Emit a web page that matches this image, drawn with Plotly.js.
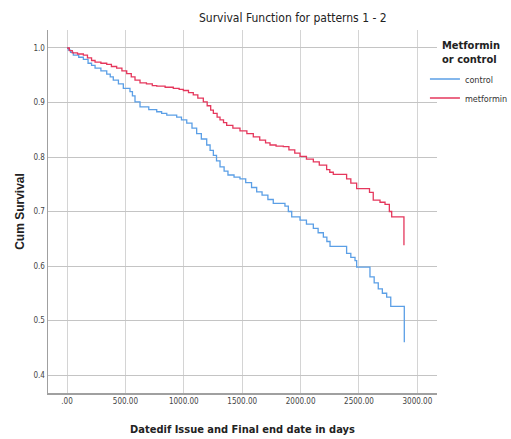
<!DOCTYPE html>
<html>
<head>
<meta charset="utf-8">
<script src="https://cdn.plot.ly/plotly-3.0.1.min.js"></script>
<style>html,body{margin:0;padding:0;background:#fff;}#chart{width:511px;height:439px;}</style>
</head>
<body>
<div id="chart"></div>
<script>
// Metformin survival (days, cumulative survival)
const metforminDays = [0,20,45,90,140,175,210,240,290,340,380,425,470,511,550,582,625,680,730,768,840,910,960,996,1040,1081,1120,1167,1200,1230,1253,1285,1310,1340,1367,1420,1481,1540,1595,1650,1700,1738,1790,1852,1900,1950,1995,2050,2109,2160,2223,2250,2280,2394,2430,2480,2590,2622,2680,2723,2760,2780,2885];
const metforminSurv = [1.000,0.995,0.991,0.989,0.987,0.982,0.977,0.974,0.972,0.970,0.966,0.963,0.958,0.953,0.947,0.941,0.936,0.934,0.931,0.930,0.928,0.926,0.924,0.922,0.918,0.914,0.908,0.901,0.894,0.886,0.880,0.873,0.868,0.863,0.858,0.853,0.848,0.843,0.837,0.831,0.826,0.822,0.820,0.819,0.813,0.807,0.801,0.796,0.791,0.785,0.777,0.772,0.768,0.760,0.752,0.742,0.735,0.721,0.717,0.713,0.700,0.690,0.638];
// Control survival
const controlDays = [0,11,30,54,100,140,180,210,240,290,340,370,396,440,482,539,560,582,625,700,768,810,854,939,980,1025,1070,1110,1150,1196,1225,1253,1280,1310,1345,1378,1430,1481,1530,1580,1624,1670,1720,1766,1866,1895,1924,1995,2050,2109,2150,2195,2225,2252,2394,2430,2466,2480,2594,2630,2665,2700,2737,2772,2888];
const controlSurv = [1.000,0.996,0.992,0.987,0.983,0.979,0.972,0.968,0.963,0.958,0.952,0.947,0.941,0.934,0.926,0.920,0.912,0.901,0.892,0.887,0.883,0.880,0.877,0.873,0.868,0.862,0.853,0.843,0.833,0.822,0.812,0.803,0.793,0.782,0.774,0.767,0.763,0.760,0.753,0.744,0.736,0.730,0.722,0.715,0.710,0.700,0.690,0.684,0.677,0.669,0.661,0.653,0.645,0.636,0.623,0.616,0.610,0.598,0.580,0.569,0.558,0.550,0.543,0.526,0.460];

const xTickVals = [0,500,1000,1500,2000,2500,3000];
const xTickText = [".00","500.00","1000.00","1500.00","2000.00","2500.00","3000.00"];
const yTickVals = [0.4,0.5,0.6,0.7,0.8,0.9,1.0];
const yTickText = ["0.4","0.5","0.6","0.7","0.8","0.9","1.0"];
const legendTitle = "Metformin<br>or control";

const narrow = "'DejaVu Sans Condensed', 'Liberation Sans Narrow', Arial, sans-serif";

const traces = [
  {x: controlDays, y: controlSurv, name: "control", mode: "lines",
   line: {shape: "hv", color: "#5b9fe6", width: 1.3}},
  {x: metforminDays, y: metforminSurv, name: "metformin", mode: "lines",
   line: {shape: "hv", color: "#e5375c", width: 1.3}}
];

const layout = {
  width: 511, height: 439,
  margin: {l: 48, r: 74, t: 30, b: 46, autoexpand: false},
  paper_bgcolor: "#fff", plot_bgcolor: "#fff",
  title: {text: "Survival Function for patterns 1 - 2", x: 0.573, xanchor: "center", xref: "container",
          y: 0.96, yanchor: "middle", yref: "container",
          font: {family: narrow, size: 12, color: "#222"}},
  xaxis: {range: [-163, 3168], tickvals: xTickVals, ticktext: xTickText,
          showgrid: true, gridcolor: "#d4d4d4", gridwidth: 1,
          showline: true, linecolor: "#a0a0a0", linewidth: 1.5,
          ticks: "", zeroline: false,
          tickfont: {family: narrow, size: 8, color: "#444"},
          title: {text: "<b>Datedif Issue and Final end date in days</b>", standoff: 20,
                  font: {family: narrow, size: 11, color: "#222"}}},
  yaxis: {range: [0.367, 1.033], tickvals: yTickVals, ticktext: yTickText,
          showgrid: true, gridcolor: "#c4c4c4", gridwidth: 1,
          showline: true, linecolor: "#a0a0a0", linewidth: 1.5,
          ticks: "", zeroline: false,
          tickfont: {family: narrow, size: 8, color: "#444"},
          title: {text: "<b>Cum Survival</b>", standoff: 6,
                  font: {family: "Arial, 'Liberation Sans', sans-serif", size: 12, color: "#222"}}},
  showlegend: true,
  legend: {x: 0.969, xanchor: "left", y: 0.905, yanchor: "top",
           bgcolor: "rgba(0,0,0,0)", tracegroupgap: 0,
           font: {family: narrow, size: 9, color: "#333"},
           itemwidth: 30},
  annotations: [
    {text: "<b>" + legendTitle + "</b>", xref: "paper", yref: "paper", x: 1.0077, y: 0.981,
     xanchor: "left", yanchor: "top", align: "left", showarrow: false,
     font: {family: narrow, size: 11, color: "#222"}}
  ]
};

Plotly.newPlot("chart", traces, layout, {displayModeBar: false, staticPlot: true});
</script>
</body>
</html>
